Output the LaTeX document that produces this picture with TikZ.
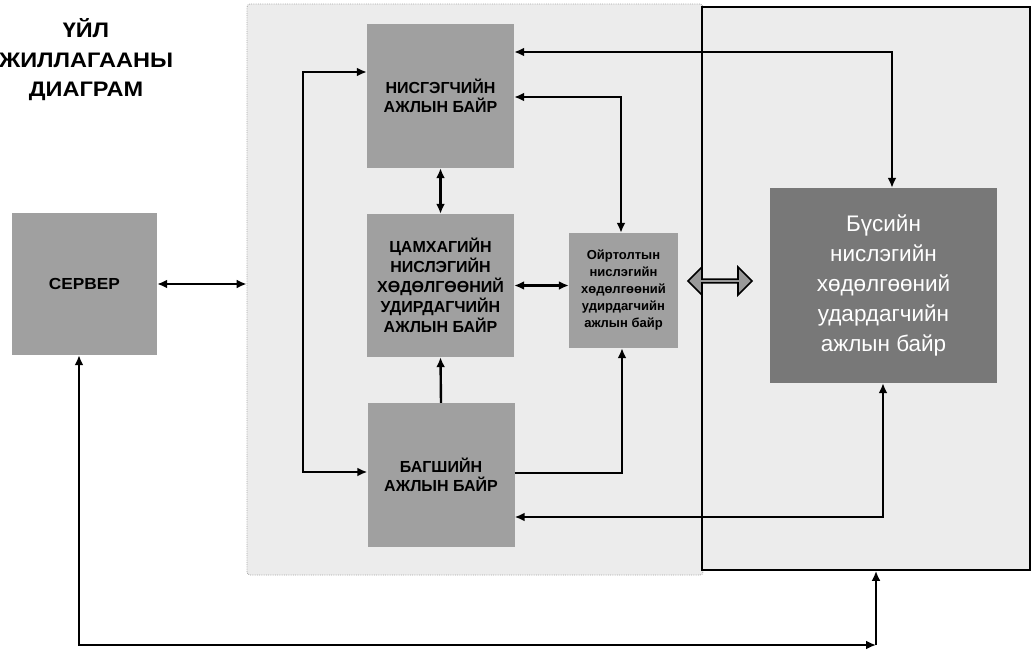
\documentclass[tikz,border=0pt]{standalone}
\usepackage{fontspec}
\setmainfont{Liberation Sans}
\usetikzlibrary{arrows.meta,shapes.arrows}
\definecolor{boxgray}{RGB}{160,160,160}
\definecolor{darkbox}{RGB}{120,120,120}
\definecolor{bgpale}{RGB}{236,236,236}
\tikzset{
  box/.style={fill=boxgray, inner sep=0pt, align=center, font=\bfseries\fontsize{16}{19}\selectfont},
  bigarea/.style={fill=bgpale, inner sep=0pt},
  conn/.style={line width=2.4pt, -{Latex[length=10pt,width=9pt]}},
  bconn/.style={line width=2.4pt, {Latex[length=10pt,width=9pt]}-{Latex[length=10pt,width=9pt]}},
}
\begin{document}
\begin{tikzpicture}[x=1pt,y=-1pt]
\useasboundingbox (0,0) rectangle (1034,653);
% large areas
\node[bigarea, draw=gray!70, densely dotted, line width=0.8pt, rounded corners=3pt, minimum width=456pt, minimum height=571pt] (lrect) at (475,289.5) {};
\node[bigarea, draw=black, line width=1.8pt, minimum width=328pt, minimum height=563pt] (rrect) at (866,288.5) {};
% title
\node[align=center, font=\bfseries\fontsize{21}{29.5}\selectfont, xscale=1.12] (title) at (86,60) {ҮЙЛ\\ЖИЛЛАГААНЫ\\ДИАГРАМ};
% boxes
\node[box, minimum width=145pt, minimum height=142pt] (srv) at (84.5,284) {\scalebox{1.08}[1]{СЕРВЕР}};
\node[box, minimum width=147pt, minimum height=144pt] (nis) at (440.5,96) {НИСГЭГЧИЙН\\АЖЛЫН БАЙР};
\node[box, minimum width=147pt, minimum height=143pt, font=\bfseries\fontsize{16}{20}\selectfont] (tsam) at (440.5,285.5) {ЦАМХАГИЙН\\НИСЛЭГИЙН\\ХӨДӨЛГӨӨНИЙ\\УДИРДАГЧИЙН\\АЖЛЫН БАЙР};
\node[box, minimum width=147pt, minimum height=144pt] (bag) at (441,475) {БАГШИЙН\\АЖЛЫН БАЙР};
\node[box, minimum width=109pt, minimum height=115pt, font=\bfseries\fontsize{13}{17}\selectfont] (oir) at (623.5,290.5) {Ойртолтын\\нислэгийн\\хөдөлгөөний\\удирдагчийн\\ажлын байр};
\node[fill=darkbox, inner sep=0pt, align=center, text=white, minimum width=227pt, minimum height=195pt, font=\fontsize{22.5}{30}\selectfont] (bus) at (883.5,285.5) {Бүсийн\\нислэгийн\\хөдөлгөөний\\удардагчийн\\ажлын байр};
% block double arrow
\node[double arrow, draw=black, fill=gray!80, line width=1.6pt, minimum width=28pt, minimum height=64pt, double arrow head extend=5pt, inner sep=0pt] (dbl) at (720,281) {};
% bend points
\coordinate (tA) at (892,52);
\coordinate (tB) at (621,97);
\coordinate (lA) at (303,72);
\coordinate (lB) at (303,472);
\coordinate (bB) at (622,473);
\coordinate (bC) at (883,517);
\coordinate (bL) at (79,645);
\coordinate (bR) at (876,645);
% connectors
\draw[bconn] (nis.east |- tA) -- (tA) -- (bus.north -| tA);
\draw[bconn] (nis.east |- tB) -- (tB) -- (oir.north -| tB);
\draw[bconn] (nis.west |- lA) -- (lA) -- (lB) -- (bag.west |- lB);
\draw[bconn] (nis.south) -- (tsam.north);
\draw[bconn] (tsam.east) -- (oir.west |- tsam.east);
\draw[conn] (bag.north) -- (tsam.south);
\draw[conn] (bag.east |- bB) -- (bB) -- (oir.south -| bB);
\draw[bconn] (bus.south -| bC) -- (bC) -- (bag.east |- bC);
\draw[bconn] (srv.east) -- (lrect.west |- srv.east);
\draw[bconn] (srv.south -| bL) -- (bL) -- (bR);
\draw[conn] (bR) -- (rrect.south -| bR);
\end{tikzpicture}
\end{document}
